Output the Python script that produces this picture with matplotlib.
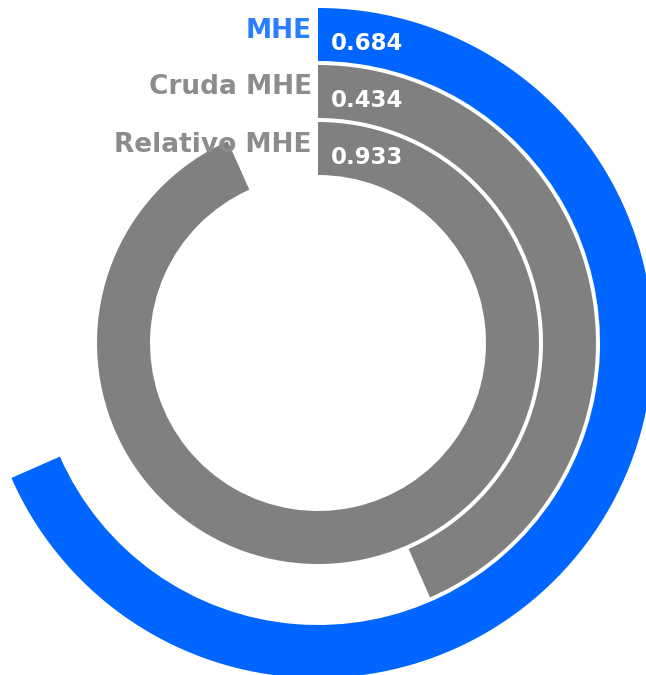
import matplotlib
matplotlib.use("Agg")
import matplotlib.pyplot as plt
from matplotlib.patches import Wedge

# data, outermost ring first
labels = ["MHE", "Cruda MHE", "Relativo MHE"]
values = [0.684, 0.434, 0.933]
bar_colors = ["#0066ff", "#808080", "#808080"]
label_colors = ["#2a7fff", "#8c8c8c", "#8c8c8c"]

W, H = 646, 675
cx, cy = 318, H - 343
outer_r = 335
ring_w = 53
ring_step = 57

fig = plt.figure(figsize=(W / 100, H / 100), dpi=100)
ax = fig.add_axes([0, 0, 1, 1])
ax.set_xlim(0, W)
ax.set_ylim(0, H)
ax.set_aspect("equal")
ax.axis("off")

for i, (lab, val, bc, lc) in enumerate(zip(labels, values, bar_colors, label_colors)):
    r = outer_r - i * ring_step
    # clockwise from 12 o'clock, full circle = 1.0
    ax.add_patch(Wedge((cx, cy), r, 90 - val * 360, 90, width=ring_w,
                       facecolor=bc, edgecolor="none"))
    mid = cy + r - ring_w / 2
    ax.text(cx - 6, mid + 4, lab, ha="right", va="center", fontsize=19,
            fontweight="bold", color=lc)
    ax.text(cx + 13, mid - 9, f"{val:.3f}", ha="left", va="center", fontsize=16.5,
            fontweight="bold", color="white")

fig.savefig("out.png", dpi=100)
